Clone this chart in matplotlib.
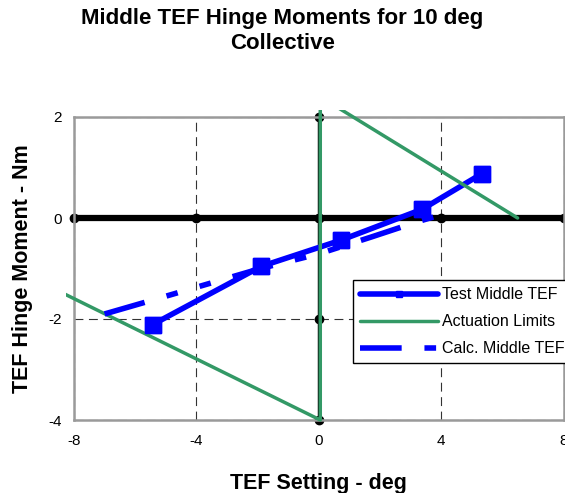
import matplotlib
matplotlib.use("Agg")
import matplotlib.pyplot as plt
from matplotlib.patches import Rectangle

plt.rcParams['font.family'] = ['Liberation Sans', 'DejaVu Sans']
plt.rcParams['axes.unicode_minus'] = False

# data
test_x = [-5.43, -1.89, 0.72, 3.37, 5.34]
test_y = [-2.11, -0.96, -0.44, 0.17, 0.88]

calc_x = [-7.0, -5.4, -1.9, 0.0, 1.7, 3.3, 4.2]
calc_y = [-1.90, -1.62, -1.00, -0.71, -0.38, -0.06, 0.10]

act_x = [-10.0, 0.05, 0.05, 6.5]
act_y = [-1.0, -4.0, 2.4, 0.0]

xticks = [-8, -4, 0, 4, 8]
yticks = [-4, -2, 0, 2]

blue = '#0000ff'
green = '#339966'

fig = plt.figure(figsize=(5.65, 4.93), dpi=100)
ax = fig.add_axes([74 / 565, 73 / 493, 489.5 / 565, 303 / 493])

ax.set_xlim(-8, 8)
ax.set_ylim(-4, 2)
ax.set_xticks(xticks)
ax.set_yticks(yticks)
ax.tick_params(length=0, labelsize=11)
ax.tick_params(axis='x', pad=10)
ax.tick_params(axis='y', pad=9)
for s in ax.spines.values():
    s.set_color('#9a9a9a')
    s.set_linewidth(1.8)
ax.grid(True, color='#333333', lw=0.8, linestyle=(0, (8, 5)))
ax.set_axisbelow(True)

# zero axis lines with tick dots
ax.axhline(0, color='black', lw=4.5, zorder=2)
ax.axvline(0, color='black', lw=2.5, zorder=2)
ax.plot(xticks, [0] * len(xticks), 'o', color='black', ms=6, zorder=2, clip_on=False)
ax.plot([0] * len(yticks), yticks, 'o', color='black', ms=6, zorder=2, clip_on=False)

# lines
ax.plot(test_x, test_y, color=blue, lw=4, marker='s', ms=11,
        solid_capstyle='round', label='Test Middle TEF', zorder=3)
act, = ax.plot(act_x, act_y, color=green, lw=2.5, label='Actuation Limits',
               zorder=4, solid_capstyle='round')
clip = Rectangle((-8 / 489.5, -0.03), 1 + 16 / 489.5, 1 + 16 / 303,
                 transform=ax.transAxes, visible=False)
act.set_clip_path(clip)
ax.plot(calc_x, calc_y, color=blue, lw=4, linestyle=(0, (7.5, 4.1, 2.1, 4.1, 2.1, 4.1)),
        dash_capstyle='butt', label='Calc. Middle TEF', zorder=5)
# markers sit on top of every line
ax.plot(test_x, test_y, 's', color=blue, ms=11, zorder=6)

leg = ax.legend(loc='upper left', bbox_to_anchor=(353 / 565, 1 - 280 / 493),
                bbox_transform=fig.transFigure, fontsize=11.5, frameon=True,
                fancybox=False, edgecolor='black', framealpha=1, borderaxespad=0,
                borderpad=0.45, handlelength=4.9, handletextpad=0.2, labelspacing=0.75)
leg.get_frame().set_linewidth(1.0)
leg.legend_handles[0].set_markersize(5)
leg.set_zorder(10)

ax.set_xlabel('TEF Setting - deg', fontsize=15.5, fontweight='bold', va='center')
ax.xaxis.set_label_coords(0.5, -0.208)
ax.set_ylabel('TEF Hinge Moment - Nm', fontsize=15.5, fontweight='bold', va='center')
ax.yaxis.set_label_coords(-0.105, 0.5)

fig.text(0.5, 1 - 31 / 493, 'Middle TEF Hinge Moments for 10 deg\nCollective',
         ha='center', va='center', fontsize=16, fontweight='bold', linespacing=1.3)

fig.savefig('out.png', dpi=100)
